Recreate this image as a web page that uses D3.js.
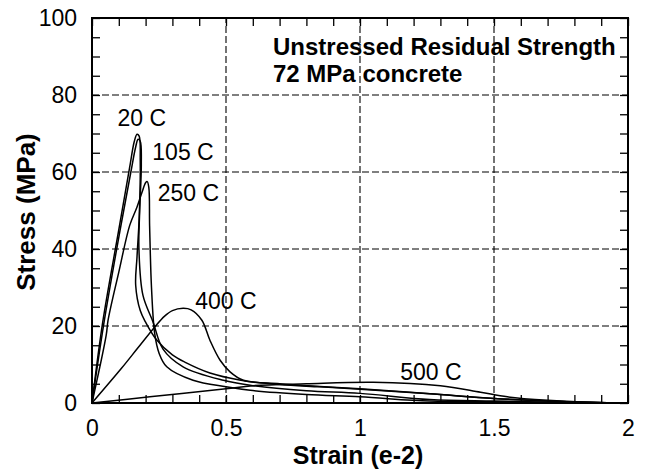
<!DOCTYPE html>
<html>
<head>
<meta charset="utf-8">
<script src="https://cdn.jsdelivr.net/npm/d3@7"></script>
<style>
  html, body { margin: 0; padding: 0; background: #fff; }
  svg { display: block; }
  text { font-family: "Liberation Sans", Arial, Helvetica, sans-serif; fill: #000; }
</style>
</head>
<body>
<svg id="chart" width="645" height="472"></svg>
<script>
// ---------------- data ----------------
const xTicks = [0, 0.5, 1, 1.5, 2];
const xTickLabels = ["0", "0.5", "1", "1.5", "2"];
const yTicks = [0, 20, 40, 60, 80, 100];
const yTickLabels = ["0", "20", "40", "60", "80", "100"];
const xMinor = [0.1,0.2,0.3,0.4,0.6,0.7,0.8,0.9,1.1,1.2,1.3,1.4,1.6,1.7,1.8,1.9];
const yMinor = [5,10,15,25,30,35,45,50,55,65,70,75,85,90,95];

const seriesNames = ["20 C", "105 C", "250 C", "400 C", "500 C"];

const strain20 = [0, 0.04, 0.10, 0.14, 0.158, 0.168, 0.176, 0.180, 0.176, 0.168, 0.163, 0.180, 0.20, 0.24, 0.30, 0.35, 0.44, 0.55, 0.70, 0.85, 1.00, 1.26, 1.50, 1.75, 2.00];
const stress20 = [0, 21, 45, 61, 68, 69.8, 69.3, 63, 48, 38, 30.6, 24, 21, 16.5, 12.5, 10.5, 7.8, 6.0, 4.8, 4.2, 3.6, 2.4, 1.2, 0.4, 0];

const strain105 = [0, 0.045, 0.105, 0.145, 0.163, 0.172, 0.180, 0.184, 0.178, 0.175, 0.19, 0.228, 0.265, 0.34, 0.49, 0.59, 0.80, 1.00, 1.26, 1.50, 1.75, 2.00];
const stress105 = [0, 21, 45, 60, 66.5, 68.5, 68, 62, 50, 40.3, 28, 21, 14, 9.4, 5.9, 4.6, 3.2, 2.5, 0.9, 0.5, 0.2, 0];

const strain250 = [0, 0.053, 0.06, 0.10, 0.141, 0.168, 0.187, 0.200, 0.206, 0.212, 0.215, 0.222, 0.234, 0.25, 0.279, 0.377, 0.50, 0.59, 0.80, 1.00, 1.26, 1.50, 2.00];
const stress250 = [0, 17.6, 21.5, 34, 46.2, 50.9, 54.8, 57.2, 57.5, 56, 46, 30, 18, 13, 9.4, 5.9, 4.2, 3.3, 2.2, 1.6, 0.5, 0.3, 0];

const strain400 = [0, 0.11, 0.17, 0.235, 0.27, 0.30, 0.34, 0.37, 0.41, 0.44, 0.478, 0.515, 0.565, 0.70, 0.85, 1.00, 1.30, 1.50, 1.75, 2.00];
const stress400 = [0, 9, 14.2, 19.8, 22.5, 24, 24.6, 24.2, 21.5, 16.3, 11.1, 8.1, 5.9, 5.0, 4.3, 3.7, 2.2, 1.2, 0.4, 0];

const strain500 = [0, 0.216, 0.50, 0.60, 0.80, 1.05, 1.30, 1.45, 1.55, 1.70, 1.85, 2.00];
const stress500 = [0, 1.6, 3.7, 4.5, 5.0, 5.4, 4.5, 2.8, 1.6, 0.7, 0.2, 0];

const labelStrain = [0.095, 0.225, 0.245, 0.385, 1.15];
const labelStress = [72, 63, 52.5, 24.5, 6];

const titleLines = ["Unstressed Residual Strength", "72 MPa concrete"];
const xTitle = "Strain (e-2)";
const yTitle = "Stress (MPa)";

// ---------------- chart ----------------
const svg = d3.select("#chart");
const x = d3.scaleLinear().domain([0, 2]).range([92, 628]);
const y = d3.scaleLinear().domain([0, 100]).range([403, 18]);

const fontTick = 23;

// gridlines
const grid = svg.append("g").attr("stroke", "#000").attr("stroke-width", 1.1).attr("stroke-dasharray", "7,3");
grid.selectAll("line.vx").data(xTicks.slice(1, -1)).join("line")
  .attr("x1", d => x(d)).attr("x2", d => x(d)).attr("y1", y(0)).attr("y2", y(100));
grid.selectAll("line.hy").data(yTicks.slice(1, -1)).join("line")
  .attr("y1", d => y(d)).attr("y2", d => y(d)).attr("x1", x(0)).attr("x2", x(2));

// axes with inward ticks
function styleAxis(g) {
  g.select(".domain").remove();
  g.selectAll(".tick line").attr("stroke", "#000").attr("stroke-width", 1.3);
}
const allX = xTicks.concat(xMinor);
const allY = yTicks.concat(yMinor);

const gBottom = svg.append("g").attr("transform", `translate(0,${y(0)})`)
  .call(d3.axisBottom(x).tickValues(allX).tickSize(-8).tickPadding(17)
    .tickFormat(d => { const i = xTicks.indexOf(d); return i >= 0 ? xTickLabels[i] : ""; }));
styleAxis(gBottom);
gBottom.selectAll("text").attr("font-size", fontTick).style("font-family", "'Liberation Sans', Arial, sans-serif");

const gTop = svg.append("g").attr("transform", `translate(0,${y(100)})`)
  .call(d3.axisTop(x).tickValues(allX).tickSize(-8).tickFormat(""));
styleAxis(gTop);

const gLeft = svg.append("g").attr("transform", `translate(${x(0)},0)`)
  .call(d3.axisLeft(y).tickValues(allY).tickSize(-8).tickPadding(15)
    .tickFormat(d => { const i = yTicks.indexOf(d); return i >= 0 ? yTickLabels[i] : ""; }));
styleAxis(gLeft);
gLeft.selectAll("text").attr("font-size", fontTick).style("font-family", "'Liberation Sans', Arial, sans-serif");

const gRight = svg.append("g").attr("transform", `translate(${x(2)},0)`)
  .call(d3.axisRight(y).tickValues(allY).tickSize(-8).tickFormat(""));
styleAxis(gRight);

// frame
svg.append("rect")
  .attr("x", x(0)).attr("y", y(100))
  .attr("width", x(2) - x(0)).attr("height", y(0) - y(100))
  .attr("fill", "none").attr("stroke", "#000").attr("stroke-width", 2);

// curves
const series = [
  [strain20, stress20], [strain105, stress105], [strain250, stress250],
  [strain400, stress400], [strain500, stress500]
];
const line = d3.line().x(d => x(d[0])).y(d => y(d[1])).curve(d3.curveCatmullRom.alpha(0.5));
svg.append("g").selectAll("path").data(series).join("path")
  .attr("d", s => line(s[0].map((v, i) => [v, s[1][i]])))
  .attr("fill", "none").attr("stroke", "#000").attr("stroke-width", 1.5)
  .attr("stroke-linejoin", "round");

// curve labels
svg.append("g").selectAll("text").data(seriesNames).join("text")
  .attr("x", (d, i) => x(labelStrain[i])).attr("y", (d, i) => y(labelStress[i]))
  .attr("font-size", 23).text(d => d);

// title
svg.append("g").selectAll("text").data(titleLines).join("text")
  .attr("x", 273).attr("y", (d, i) => 55 + i * 27)
  .attr("font-size", 24).attr("font-weight", "bold").text(d => d);

// axis titles
svg.append("text").attr("x", 358).attr("y", 464).attr("text-anchor", "middle")
  .attr("font-size", 25).attr("font-weight", "bold").text(xTitle);
svg.append("text").attr("transform", "translate(35,212) rotate(-90)").attr("text-anchor", "middle")
  .attr("font-size", 26).attr("font-weight", "bold").text(yTitle);
</script>
</body>
</html>
